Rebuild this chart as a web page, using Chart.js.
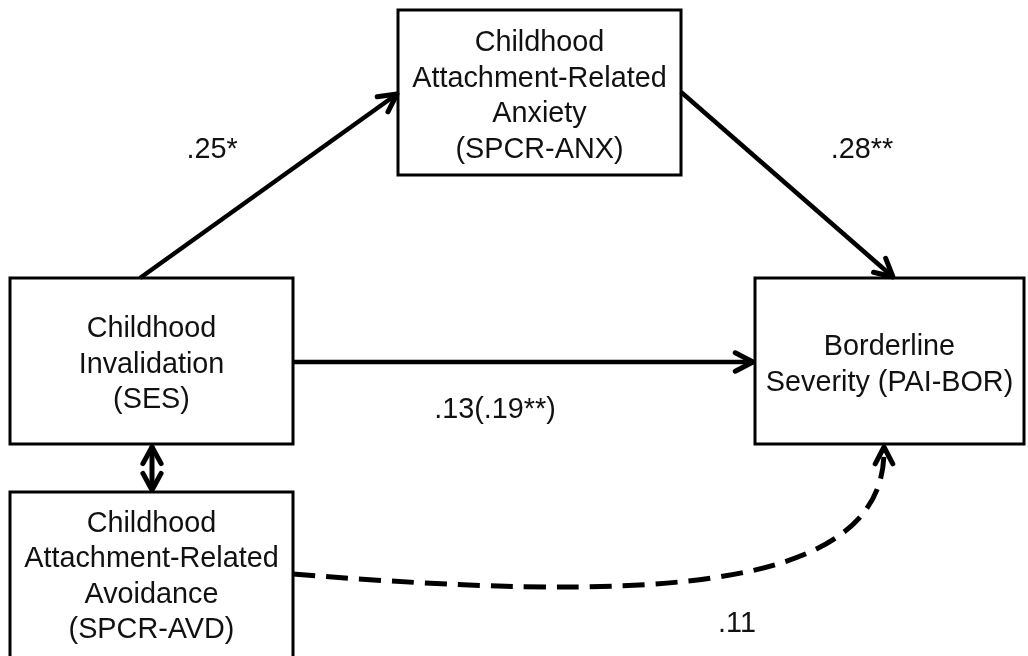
<!DOCTYPE html>
<html>
<head>
<meta charset="utf-8">
<script src="https://cdn.jsdelivr.net/npm/chart.js@4"></script>
<style>
  html, body { margin: 0; padding: 0; background: #fff; }
  canvas { display: block; }
</style>
</head>
<body>
<canvas id="pfad" width="1028" height="656"></canvas>
<script>
// Daten: Knoten (Textzeilen) und Pfadkoeffizienten
const nodeNames = ['invalidation', 'anxiety', 'avoidance', 'borderline'];
const nodeLines = [
    ['Childhood', 'Invalidation', '(SES)'],
    ['Childhood', 'Attachment-Related', 'Anxiety', '(SPCR-ANX)'],
    ['Childhood', 'Attachment-Related', 'Avoidance', '(SPCR-AVD)'],
    ['Borderline', 'Severity (PAI-BOR)']
];
const pathFrom = ['invalidation', 'anxiety', 'invalidation', 'avoidance'];
const pathTo = ['anxiety', 'borderline', 'borderline', 'borderline'];
const pathLabels = ['.25*', '.28**', '.13(.19**)', '.11'];

// Layout (Positionen in Diagramm-Koordinaten)
const boxes = {
    invalidation: { x0: 10, y0: 278, x1: 293, y1: 444 },
    anxiety:      { x0: 398, y0: 10, x1: 681, y1: 175 },
    avoidance:    { x0: 10, y0: 492, x1: 293, y1: 658 },
    borderline:   { x0: 755, y0: 278, x1: 1024, y1: 444 }
};
const anchors = [
    [[140, 278], [397, 94]],
    [[681, 92], [893, 277]],
    [[293, 362], [753, 362]],
    [[293, 574], [884, 447]]
];
const labelPos = [[212, 150], [862, 150], [495, 410], [737, 624]];

const ctx = document.getElementById('pfad').getContext('2d');

// Rechtecke als Linien-Datensätze (Start in der Mitte der Oberkante, damit alle Ecken sauber sind)
const boxSets = nodeNames.map(n => {
    const b = boxes[n];
    const mx = (b.x0 + b.x1) / 2;
    return {
        data: [{x: mx, y: b.y0}, {x: b.x1, y: b.y0}, {x: b.x1, y: b.y1}, {x: b.x0, y: b.y1}, {x: b.x0, y: b.y0}, {x: mx, y: b.y0}],
        showLine: true, borderColor: '#000', borderWidth: 3, pointRadius: 0, tension: 0,
        borderJoinStyle: 'miter'
    };
});

// gerade Pfeile (die ersten drei)
const arrowSets = [0, 1, 2].map(i => ({
    data: [{x: anchors[i][0][0], y: anchors[i][0][1]}, {x: anchors[i][1][0], y: anchors[i][1][1]}],
    showLine: true, borderColor: '#000', borderWidth: 4.5, pointRadius: 0, tension: 0,
    borderCapStyle: 'butt'
}));

// Doppelpfeil zwischen Invalidation und Avoidance
const corrSet = {
    data: [{x: 152, y: 446}, {x: 152, y: 490}],
    showLine: true, borderColor: '#000', borderWidth: 5, pointRadius: 0
};

function chevron(c, xs, ys, fx, fy, tx, ty, len, ang) {
    const x1 = xs.getPixelForValue(fx), y1 = ys.getPixelForValue(fy);
    const x2 = xs.getPixelForValue(tx), y2 = ys.getPixelForValue(ty);
    const a = Math.atan2(y2 - y1, x2 - x1);
    c.beginPath();
    c.moveTo(x2 - len * Math.cos(a - ang), y2 - len * Math.sin(a - ang));
    c.lineTo(x2, y2);
    c.lineTo(x2 - len * Math.cos(a + ang), y2 - len * Math.sin(a + ang));
    c.stroke();
}

const diagramPlugin = {
    id: 'diagram',
    afterDatasetsDraw(chart) {
        const c = chart.ctx;
        const xs = chart.scales.x, ys = chart.scales.y;
        const px = v => xs.getPixelForValue(v), py = v => ys.getPixelForValue(v);
        c.save();
        c.strokeStyle = '#000';
        c.lineCap = 'round';
        c.lineJoin = 'round';

        // Pfeilspitzen
        c.lineWidth = 5;
        [0, 1, 2].forEach(i => {
            const [f, t] = anchors[i];
            chevron(c, xs, ys, f[0], f[1], t[0], t[1], 20, 0.48);
        });
        chevron(c, xs, ys, 152, 470, 152, 447, 19, 0.5);
        chevron(c, xs, ys, 152, 470, 152, 490, 19, 0.5);

        // gestrichelte Kurve
        const [s, e] = anchors[3];
        c.lineWidth = 5;
        c.lineCap = 'butt';
        c.setLineDash([22, 11]);
        c.beginPath();
        c.moveTo(px(s[0]), py(s[1]));
        c.bezierCurveTo(px(620), py(600), px(e[0]), py(600), px(e[0]), py(e[1] + 4));
        c.stroke();
        c.setLineDash([]);
        c.lineCap = 'round';
        chevron(c, xs, ys, e[0], e[1] + 30, e[0], e[1], 19, 0.48);

        // Texte in den Kästen
        c.fillStyle = '#111';
        c.font = '28.8px "Liberation Sans", Arial, sans-serif';
        c.textAlign = 'center';
        c.textBaseline = 'middle';
        const lh = 35.5;
        nodeNames.forEach((n, i) => {
            const b = boxes[n];
            const lines = nodeLines[i];
            const cx = (b.x0 + b.x1) / 2;
            let cy = (Math.min(b.y1, 656) + b.y0) / 2 + 3;
            if (n === 'avoidance') cy = 576;
            lines.forEach((t, k) => {
                c.fillText(t, px(cx), py(cy + (k - (lines.length - 1) / 2) * lh) + 1);
            });
        });

        // Pfadkoeffizienten
        pathLabels.forEach((t, i) => {
            c.fillText(t, px(labelPos[i][0]), py(labelPos[i][1]));
        });
        c.restore();
    }
};

new Chart(ctx, {
    type: 'scatter',
    data: { datasets: [...boxSets, ...arrowSets, corrSet] },
    options: {
        responsive: false,
        animation: false,
        layout: { padding: 0 },
        plugins: { legend: { display: false }, tooltip: { enabled: false } },
        scales: {
            x: { type: 'linear', min: 0, max: 1028, display: false },
            y: { type: 'linear', min: 0, max: 656, reverse: true, display: false }
        },
        elements: { line: { clip: false } }
    },
    plugins: [diagramPlugin]
});
</script>
</body>
</html>
